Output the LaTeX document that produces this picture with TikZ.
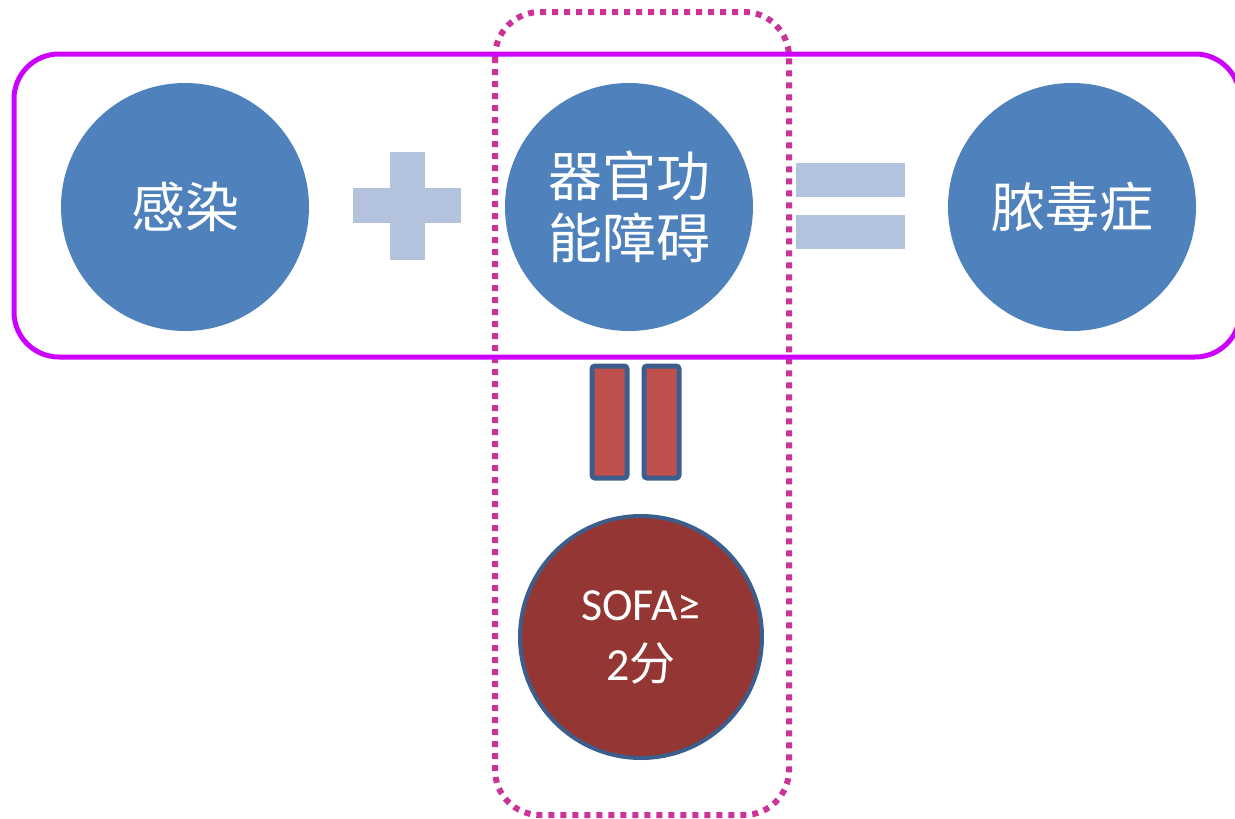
\documentclass[tikz,border=0pt]{standalone}
\usepackage{fontspec}
\newfontfamily\cjk{Noto Sans CJK SC}
\newfontfamily\lat{Carlito}
\definecolor{cblue}{HTML}{4F81BD}
\definecolor{cpale}{HTML}{B3C3DD}
\definecolor{cred}{HTML}{C0504D}
\definecolor{cdark}{HTML}{943634}
\definecolor{cedge}{HTML}{3B5E8C}
\definecolor{cmag}{HTML}{CC00FF}
\definecolor{cpink}{HTML}{CC3399}
\begin{document}
\begin{tikzpicture}[x=1pt,y=-1pt,
  bigcirc/.style={circle,fill=cblue,draw=none,minimum size=248pt,inner sep=0pt,text=white,font=\cjk\fontsize{54}{66}\selectfont,align=center},
  palebar/.style={fill=cpale,draw=none},
  redbar/.style={fill=cred,draw=cedge,line width=5pt,rounded corners=3pt}]
\useasboundingbox (0,0) rectangle (1235,819);
% dotted frame
\draw[cpink,line width=6pt,dash pattern=on 6pt off 6pt,rounded corners=45pt] (495,12) rectangle (789,815);
% circles
\node[bigcirc] (inf) at (185,207) {感染};
\node[bigcirc] (org) at (629,207) {器官功\\[-4pt]能障碍};
\node[bigcirc] (sep) at (1072,207) {脓毒症};
% plus
\fill[palebar] (390,152) rectangle (425,260);
\fill[palebar] (353,188) rectangle (461,223);
% equals
\fill[palebar] (796,163) rectangle (905,197);
\fill[palebar] (796,215) rectangle (905,249);
% magenta frame
\draw[cmag,line width=5pt,rounded corners=45pt] (14,54) rectangle (1240,357);
% red bars
\draw[redbar] (592,366) rectangle (627,478);
\draw[redbar] (644,366) rectangle (679,478);
% SOFA circle
\node[circle,fill=cdark,draw=cedge,line width=4pt,minimum size=242pt,inner sep=0pt,text=white,align=center,font=\lat\fontsize{46}{60}\selectfont] (sofa) at (641,637) {SOFA≥\\2{\cjk 分}};
\end{tikzpicture}
\end{document}
